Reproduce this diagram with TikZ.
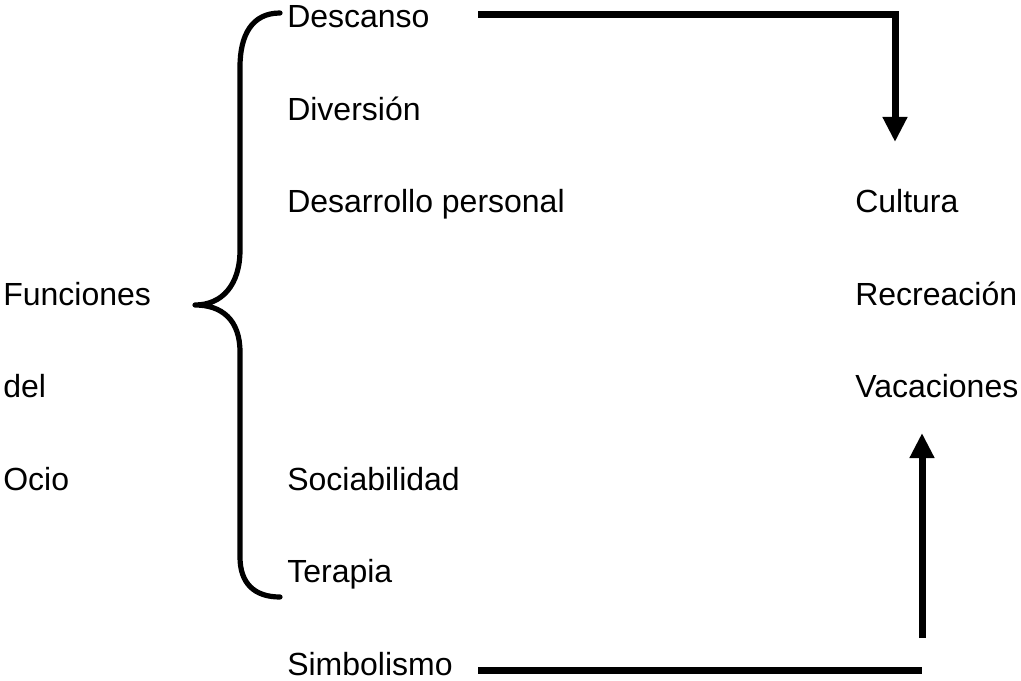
\documentclass[tikz,border=0pt]{standalone}
\usepackage{fontspec}
\setmainfont{Liberation Sans}
\usetikzlibrary{arrows.meta}
\begin{document}
\begin{tikzpicture}[x=0.75pt,y=-0.75pt,
  lbl/.style={anchor=base west,inner sep=0pt,font=\fontsize{24pt}{28pt}\selectfont},
  conn/.style={line width=5.25pt,line join=miter},
  tip/.style={-{Triangle[length=18.75pt,width=17.5pt]}},
  bracestyle/.style={line width=3.9pt,line cap=round,line join=round}]
\useasboundingbox (0,0) rectangle (1021,681);
% left column
\node[lbl] (fun) at (3,305.5) {Funciones};
\node[lbl] (del) at (3,397.9) {del};
\node[lbl] (ocio) at (3,490.3) {Ocio};
% middle column
\node[lbl] (desc) at (287,28) {Descanso};
\node[lbl] (div) at (287,120.4) {Diversión};
\node[lbl] (desa) at (287,212.8) {Desarrollo personal};
\node[lbl] (soc) at (287,490.3) {Sociabilidad};
\node[lbl] (ter) at (287,582.7) {Terapia};
\node[lbl] (sim) at (287,675.1) {Simbolismo};
% right column
\node[lbl] (cul) at (855,212.8) {Cultura};
\node[lbl] (rec) at (855,305.5) {Recreación};
\node[lbl] (vac) at (855,397.9) {Vacaciones};
% brace
\draw[bracestyle] (280,13) .. controls (252,13) and (240,35) .. (240,67)
  -- (240,250) .. controls (240,285) and (222,305) .. (195,305)
  .. controls (222,305) and (240,320) .. (240,352)
  -- (240,557) .. controls (240,583) and (254,597) .. (280,597);
% connectors
\coordinate (a1) at (478,15);
\coordinate (a2) at (895,142);
\draw[conn,tip] (a1) -| (a2);
\coordinate (b1) at (478,670);
\coordinate (b2) at (922,670);
\draw[conn] (b1) -- (b2);
\coordinate (c1) at (922,638);
\coordinate (c2) at (922,433);
\draw[conn,tip] (c1) -- (c2);
\end{tikzpicture}
\end{document}
